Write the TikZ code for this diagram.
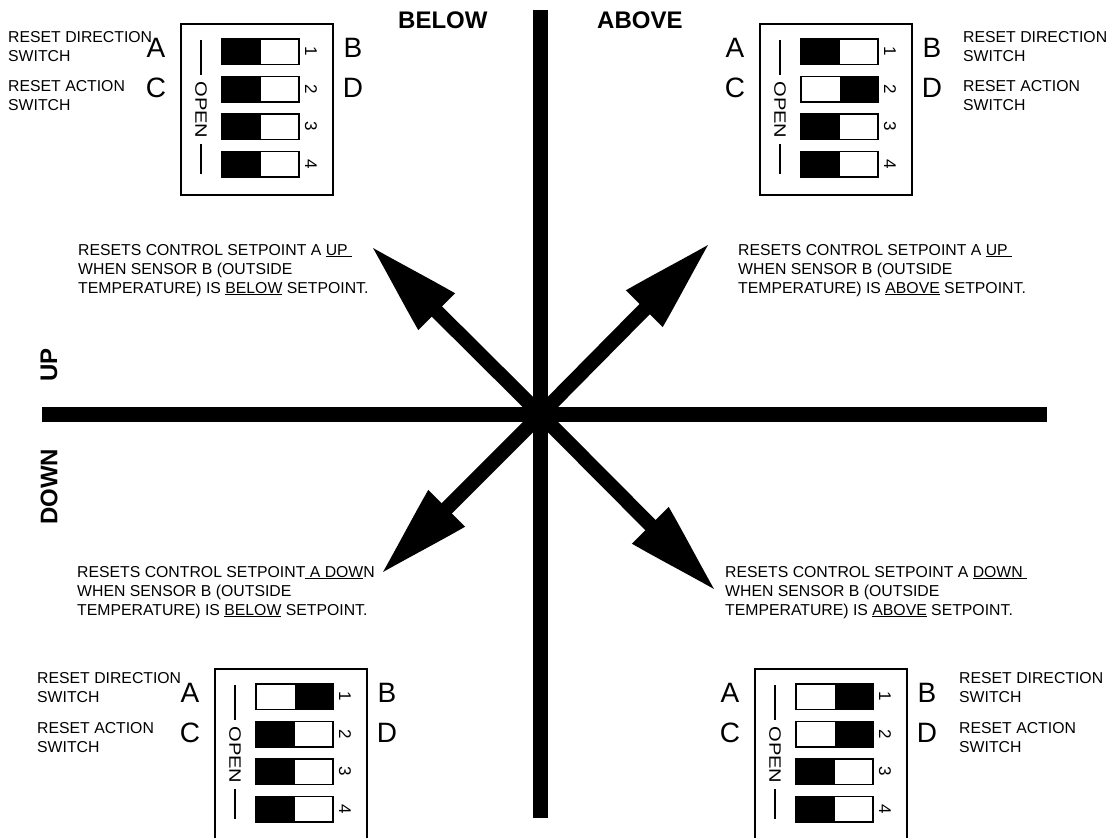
\documentclass[tikz,border=0pt]{standalone}
\usepackage{fontspec}
\setmainfont{Liberation Sans}
\usetikzlibrary{calc}
\newcommand\dipsw[3]{%
  \fill ({#1+41+#3*38.5},#2) rectangle ({#1+79.5+#3*38.5},{#2+25.5});
  \draw[swline] ({#1+41},#2) rectangle ({#1+118},{#2+25.5});
}
% #1 prefix, #2 X (box left), #3 Y (box top), #4-#7 states (0 = black left, 1 = black right)
\newcommand\dipbox[7]{%
  \dipsw{#2}{#3+15}{#4}
  \dipsw{#2}{#3+52.5}{#5}
  \dipsw{#2}{#3+90}{#6}
  \dipsw{#2}{#3+127.5}{#7}
  \node[num] (#1n1) at ({#2+130},{#3+27.5}) {1};
  \node[num] (#1n2) at ({#2+130},{#3+65}) {2};
  \node[num] (#1n3) at ({#2+130},{#3+102.5}) {3};
  \node[num] (#1n4) at ({#2+130},{#3+140}) {4};
  \node[opentxt] (#1open) at ({#2+20},{#3+86}) {\scalebox{1.22}[1]{OPEN}};
  \draw[openline] ({#2+20},{#3+16}) -- ({#2+20},{#3+51});
  \draw[openline] ({#2+20},{#3+120}) -- ({#2+20},{#3+150});
  \node[big] (#1A) at ({#2-25},{#3+33.5}) {A};
  \node[big] (#1B) at ({#2+172},{#3+33.5}) {B};
  \node[big] (#1C) at ({#2-25},{#3+73}) {C};
  \node[big] (#1D) at ({#2+172},{#3+73}) {D};
}
\newcommand\arrowhd[2]{%
  \fill[shift={(#1)}, rotate=#2] (0,0) .. controls (-32,9) and (-64,19) .. (-90,26)
    -- (-90,-26) .. controls (-64,-19) and (-32,-9) .. (0,0);
}
\begin{document}
\begin{tikzpicture}[x=1pt,y=-1pt,
  axis/.style={line width=14.5pt},
  shaft/.style={line width=14.5pt},
  boxline/.style={line width=1.4pt},
  swline/.style={line width=1.4pt},
  openline/.style={line width=1.3pt},
  lbl/.style={font=\fontsize{15.8}{19}\selectfont, inner sep=0pt, align=left, anchor=base west},
  big/.style={font=\fontsize{28}{28}\selectfont, inner sep=0pt, anchor=base},
  num/.style={font=\fontsize{17}{17}\selectfont, inner sep=0pt, rotate=-90},
  opentxt/.style={font=\fontsize{16.5}{17}\selectfont, inner sep=0pt, rotate=-90},
  hdr/.style={font=\bfseries\fontsize{24}{24}\selectfont, inner sep=0pt},
]
\useasboundingbox (0,0) rectangle (1109,838);

% axes
\coordinate (c) at (540.5,414.5);
\coordinate (vt) at (540.5,10);
\coordinate (vb) at (540.5,818);
\coordinate (hl) at (42,414.5);
\coordinate (hr) at (1047,414.5);
\draw[axis] (vt) -- (vb);
\draw[axis] (hl) -- (hr);

% diagonal arrows
\coordinate (tNW) at (373,248);
\coordinate (tNE) at (708,245);
\coordinate (tSW) at (383,572);
\coordinate (tSE) at (714,589);
\draw[shaft] (c) -- ($(tNW)!85pt!(c)$);
\draw[shaft] (c) -- ($(tNE)!85pt!(c)$);
\draw[shaft] (c) -- ($(tSW)!85pt!(c)$);
\draw[shaft] (c) -- ($(tSE)!85pt!(c)$);
\arrowhd{tNW}{135}
\arrowhd{tNE}{45}
\arrowhd{tSW}{225}
\arrowhd{tSE}{-45}

% headers
\node[hdr, anchor=base west] (below) at (398,28) {BELOW};
\node[hdr, anchor=base west] (above) at (597,28) {ABOVE};
\node[hdr, rotate=90] (up) at (49,365) {UP};
\node[hdr, rotate=90] (down) at (49,487) {DOWN};

% switch boxes
\draw[boxline] (181,24) rectangle (333,195);
\dipbox{tl}{181}{24}{0}{0}{0}{0}
\draw[boxline] (760,24) rectangle (912,195);
\dipbox{tr}{760}{24}{0}{1}{0}{0}
\draw[boxline] (215,838) -- (215,669) -- (367,669) -- (367,838);
\dipbox{bl}{215}{669}{1}{0}{0}{0}
\draw[boxline] (755,838) -- (755,669) -- (907,669) -- (907,838);
\dipbox{br}{755}{669}{1}{1}{0}{0}

% switch captions (base anchor = last line)
\node[lbl] (tlrd) at (8,61) {RESET DIRECTION\\SWITCH};
\node[lbl] (tlra) at (8,110) {RESET ACTION\\SWITCH};
\node[lbl] (trrd) at (963,61) {RESET DIRECTION\\SWITCH};
\node[lbl] (trra) at (963,110) {RESET ACTION\\SWITCH};
\node[lbl] (blrd) at (37,702) {RESET DIRECTION\\SWITCH};
\node[lbl] (blra) at (37,752) {RESET ACTION\\SWITCH};
\node[lbl] (brrd) at (959,702) {RESET DIRECTION\\SWITCH};
\node[lbl] (brra) at (959,752) {RESET ACTION\\SWITCH};

% descriptions
\node[lbl] (dNW) at (78,293) {RESETS CONTROL SETPOINT A \underline{UP\ }\\WHEN SENSOR B (OUTSIDE\\TEMPERATURE) IS \underline{BELOW} SETPOINT.};
\node[lbl] (dNE) at (738,293) {RESETS CONTROL SETPOINT A \underline{UP\ }\\WHEN SENSOR B (OUTSIDE\\TEMPERATURE) IS \underline{ABOVE} SETPOINT.};
\node[lbl] (dSW) at (77,615) {RESETS CONTROL SETPOINT\underline{\ A DOW}N\\WHEN SENSOR B (OUTSIDE\\TEMPERATURE) IS \underline{BELOW} SETPOINT.};
\node[lbl] (dSE) at (725,615) {RESETS CONTROL SETPOINT A \underline{DOWN\ }\\WHEN SENSOR B (OUTSIDE\\TEMPERATURE) IS \underline{ABOVE} SETPOINT.};
\end{tikzpicture}
\end{document}
